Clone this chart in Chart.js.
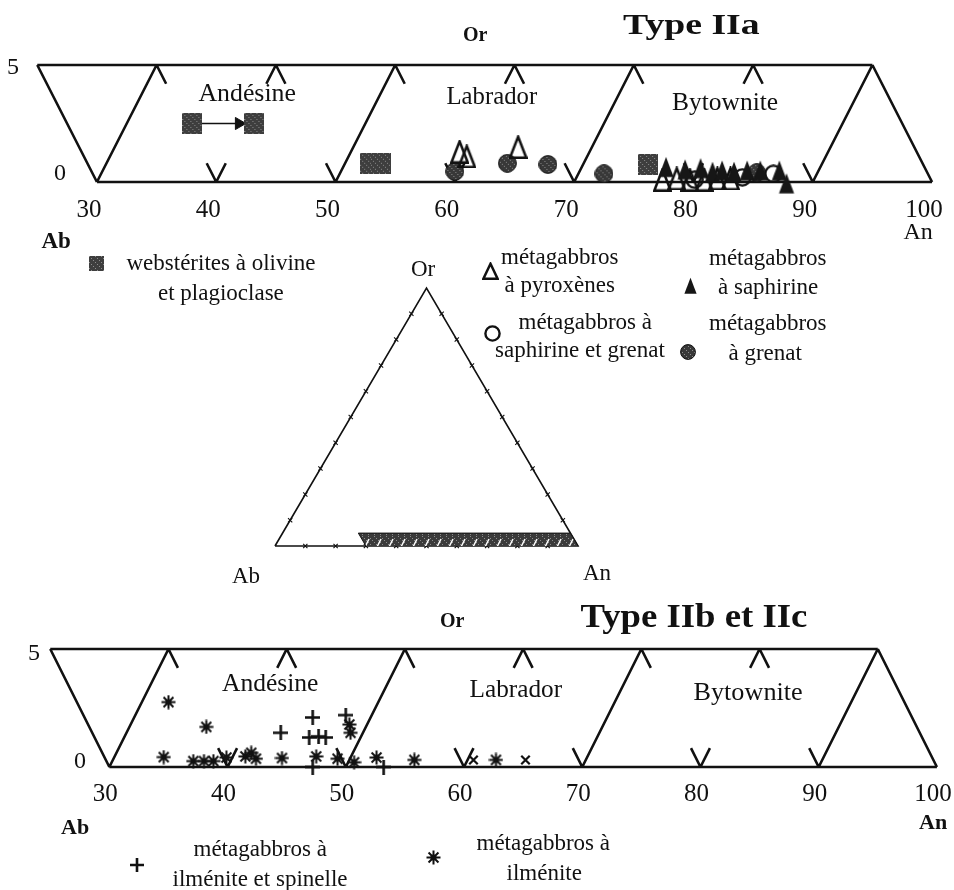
<!DOCTYPE html>
<html lang="fr">
<head>
<meta charset="utf-8">
<title>Plagioclases - Type IIa / Type IIb et IIc</title>
<script src="https://cdn.jsdelivr.net/npm/chart.js@4.4.1/dist/chart.umd.min.js"></script>
<style>
  html, body { margin: 0; padding: 0; background: #fff; overflow: hidden; }
  #page { position: relative; width: 954px; height: 890px; font-family: 'Liberation Serif', 'Times New Roman', serif; color: #111; }
  #page canvas { position: absolute; }
  .lbl { position: absolute; white-space: nowrap; line-height: 1; transform-origin: center; }
</style>
</head>
<body>
<div id="page">
  <canvas id="typeA" width="954" height="230" style="left:0;top:0"></canvas>
  <canvas id="tern" width="400" height="300" style="left:230px;top:270px"></canvas>
  <canvas id="typeB" width="954" height="300" style="left:0;top:590px"></canvas>
</div>
<script>
// ---- données (An %, Or %) ----
const xTicks = [30, 40, 50, 60, 70, 80, 90, 100];
const yTicks = ['0', '5'];
const plagioclases = ['Andésine', 'Labrador', 'Bytownite'];
const poles = ['Ab', 'An', 'Or'];

// Type IIa
const websteriteX = [38.0, 43.2, 52.9, 53.8, 76.2];
const websteriteY = [2.5, 2.5, 0.8, 0.8, 0.75];
const arrowX = [38.0, 43.2];
const arrowY = [2.5, 2.5];
const pyroxeneX = [60.4, 61.0, 65.3, 77.4, 78.6, 79.7, 80.9, 82.0, 83.1];
const pyroxeneY = [1.3, 1.1, 1.5, 0.1, 0.15, 0.1, 0.1, 0.15, 0.15];
const saphirineX = [77.7, 79.3, 80.6, 81.6, 82.4, 83.4, 84.5, 85.6, 87.2, 87.8];
const saphirineY = [0.65, 0.55, 0.6, 0.45, 0.5, 0.45, 0.5, 0.5, 0.5, -0.05];
const saphGrenatX = [80.1, 84.1, 86.7];
const saphGrenatY = [0.1, 0.2, 0.35];
const grenatX = [60.0, 64.4, 67.8, 72.5, 85.3];
const grenatY = [0.45, 0.8, 0.75, 0.35, 0.4];

// Type IIb et IIc
const ilmSpinX = [44.5, 47.2, 46.9, 47.7, 48.3, 47.2, 50.0, 53.2];
const ilmSpinY = [1.45, 2.1, 1.25, 1.3, 1.25, 0.0, 2.2, 0.0];
const ilmeniteX = [35.0, 38.2, 34.6, 37.1, 38.0, 38.8, 39.9, 41.5, 42.0, 42.4, 44.6, 47.5, 49.3, 50.3, 50.4, 50.7, 52.6, 55.8, 62.7];
const ilmeniteY = [2.75, 1.7, 0.42, 0.25, 0.25, 0.25, 0.4, 0.45, 0.6, 0.35, 0.38, 0.45, 0.35, 1.8, 1.45, 0.2, 0.4, 0.3, 0.3];
const autresX = [60.8, 65.2];
const autresY = [0.3, 0.3];

// cadre des bandes (An, Or)
const cadre = [[30, 0], [25, 5], [95, 5], [100, 0], [30, 0]];
const diagonales = [[30, 0, 35, 5], [50, 0, 55, 5], [70, 0, 75, 5], [90, 0, 95, 5]];
const ticksBasDouble = [40, 60, 80];
const ticksBasGauche = [50, 70, 90];
const ticksHautDouble = [45, 65, 85];
const ticksHautDroite = [35, 55, 75];

// ---- symboles ----
function grain(g, w, h) {
  g.fillStyle = '#8c8c8c';
  for (let i = 0; i < w; i += 2) for (let j = 0; j < h; j += 2)
    if ((i * 7 + j * 11) % 6 === 0) g.fillRect(i, j, 1, 1);
}
function symbole(kind, w, h) {
  const c = document.createElement('canvas');
  c.width = w; c.height = h;
  const g = c.getContext('2d');
  g.strokeStyle = '#111'; g.fillStyle = '#111';
  if (kind === 'carre') {
    g.fillStyle = '#3e3e3e'; g.fillRect(0, 0, w, h); grain(g, w, h);
  } else if (kind === 'triVide' || kind === 'triPlein') {
    g.lineWidth = 2.5;
    g.beginPath(); g.moveTo(w / 2, 1.8); g.lineTo(w - 1.4, h - 1.3); g.lineTo(1.4, h - 1.3); g.closePath();
    if (kind === 'triPlein') { g.fillStyle = '#161616'; g.fill(); } else g.stroke();
  } else if (kind === 'rondVide') {
    g.lineWidth = 2.4;
    g.beginPath(); g.arc(w / 2, h / 2, w / 2 - 1.4, 0, Math.PI * 2); g.stroke();
  } else if (kind === 'rondPlein') {
    g.beginPath(); g.arc(w / 2, h / 2, w / 2 - 0.6, 0, Math.PI * 2);
    g.fillStyle = '#383838'; g.fill();
    g.save(); g.clip(); grain(g, w, h); g.restore();
    g.lineWidth = 1; g.stroke();
  } else if (kind === 'plus') {
    g.lineWidth = 2.6;
    g.beginPath(); g.moveTo(w / 2, 0); g.lineTo(w / 2, h); g.moveTo(0, h / 2); g.lineTo(w, h / 2); g.stroke();
  } else if (kind === 'etoile') {
    g.lineWidth = 2;
    g.beginPath();
    for (let k = 0; k < 4; k++) {
      const a = k * Math.PI / 4, r = w / 2 - 0.5;
      g.moveTo(w / 2 - Math.cos(a) * r, h / 2 - Math.sin(a) * r);
      g.lineTo(w / 2 + Math.cos(a) * r, h / 2 + Math.sin(a) * r);
    }
    g.stroke();
    g.beginPath(); g.arc(w / 2, h / 2, w / 5, 0, Math.PI * 2); g.fill();
  }
  return c;
}

const imgCarre = symbole('carre', 20, 21);
const imgTriVide = symbole('triVide', 19, 24);
const imgTriPlein = symbole('triPlein', 18, 23);
const imgRondVide = symbole('rondVide', 19, 19);
const imgRondPlein = symbole('rondPlein', 19, 19);
const imgPlus = symbole('plus', 15, 15);
const imgEtoile = symbole('etoile', 15, 15);

// ---- cadre en segments ----
function segmentsCadre() {
  const d = 0.8;
  const pts = [];
  const seg = (a, b) => { pts.push({ x: a[0], y: a[1] }, { x: b[0], y: b[1] }, { x: b[0], y: null }); };
  for (let i = 0; i < cadre.length - 1; i++) seg(cadre[i], cadre[i + 1]);
  diagonales.forEach(([x1, y1, x2, y2]) => seg([x1, y1], [x2, y2]));
  ticksBasDouble.forEach(x => { seg([x - d, d], [x, 0]); seg([x, 0], [x + d, d]); });
  ticksBasGauche.forEach(x => seg([x - d, d], [x, 0]));
  ticksHautDouble.forEach(x => { seg([x - d, 5 - d], [x, 5]); seg([x, 5], [x + d, 5 - d]); });
  ticksHautDroite.forEach(x => seg([x, 5], [x + d, 5 - d]));
  return pts;
}

function points(label, xs, ys, style, extra) {
  return Object.assign({
    label,
    data: xs.map((x, i) => ({ x, y: ys[i] })),
    pointStyle: style,
    pointRadius: 9,
    showLine: false
  }, extra || {});
}

function cadreDataset() {
  return {
    label: 'cadre',
    data: segmentsCadre(),
    showLine: true,
    spanGaps: false,
    borderColor: '#111',
    borderWidth: 2.6,
    pointRadius: 0
  };
}

// ---- graphique en bande ----
function bande(id, geo, datasets) {
  const c = document.getElementById(id);
  const xMin = 24, yMin = -0.1, yMax = 5.1, axisH = 40;
  const ppx = (geo.px100 - geo.px30) / 70;
  const ppy = (geo.py0 - geo.py5) / 5;
  const left = geo.px30 - (30 - xMin) * ppx;
  const right = geo.px100 + (geo.xMax - 100) * ppx;
  const top = geo.py5 - (yMax - 5) * ppy - geo.top;
  const bottom = geo.py0 - yMin * ppy - geo.top;
  return new Chart(c, {
    type: 'scatter',
    data: { datasets },
    options: {
      responsive: false,
      animation: false,
      events: [],
      clip: false,
      layout: { padding: { left, right: c.width - right, top, bottom: c.height - bottom - axisH } },
      plugins: { legend: { display: false }, tooltip: { enabled: false } },
      scales: {
        x: {
          type: 'linear', min: xMin, max: geo.xMax,
          grid: { display: false }, border: { display: false },
          afterBuildTicks: s => { s.ticks = xTicks.map(v => ({ value: v })); },
          afterFit: s => { s.height = axisH; s.paddingLeft = 0; s.paddingRight = 0; },
          ticks: {
            autoSkip: false, maxRotation: 0, color: '#111',
            padding: geo.tickPad, labelOffset: geo.labelOffset,
            font: { family: 'Liberation Serif', size: 25 }
          }
        },
        y: { display: false, min: yMin, max: yMax }
      }
    }
  });
}

bande('typeA', { px30: 97, px100: 933, py0: 182, py5: 65, top: 0, xMax: 101, tickPad: 3, labelOffset: -8 }, [
  points('webstérites à olivine et plagioclase', websteriteX, websteriteY, imgCarre),
  {
    label: 'évolution', data: [{ x: arrowX[1] - 1.3, y: arrowY[1] }],
    pointStyle: 'triangle', rotation: 90, pointRadius: 7,
    backgroundColor: '#111', borderColor: '#111', showLine: false
  },
  {
    label: 'flèche', data: arrowX.map((x, i) => ({ x, y: arrowY[i] })),
    showLine: true, borderColor: '#111', borderWidth: 1.6, pointRadius: 0
  },
  points('métagabbros à saphirine', saphirineX, saphirineY, imgTriPlein),
  points('métagabbros à pyroxènes', pyroxeneX, pyroxeneY, imgTriVide),
  points('métagabbros à saphirine et grenat', saphGrenatX, saphGrenatY, imgRondVide),
  points('métagabbros à grenat', grenatX, grenatY, imgRondPlein),
  cadreDataset()
]);

bande('typeB', { px30: 110, px100: 945, py0: 767, py5: 649, top: 590, xMax: 100.6, tickPad: 2, labelOffset: -4 }, [
  points('métagabbros à ilménite et spinelle', ilmSpinX, ilmSpinY, imgPlus),
  points('métagabbros à ilménite', ilmeniteX, ilmeniteY, imgEtoile),
  points('autres', autresX, autresY, 'crossRot', { pointRadius: 6, borderColor: '#111', borderWidth: 2.2 }),
  cadreDataset()
]);

// ---- diagramme ternaire Ab-An-Or ----
(function () {
  const h = 86.6;
  const tern = (an, or) => ({ x: an + or / 2, y: or * h / 100 });
  const ticks = [];
  for (let i = 1; i < 10; i++) {
    ticks.push({ x: 5 * i, y: h * i / 10 }, { x: 100 - 5 * i, y: h * i / 10 });
    ticks.push({ x: 10 * i, y: 0 });
  }
  const zone = [tern(30, 0), tern(25, 5), tern(95, 5), tern(100, 0)];
  const pc = document.createElement('canvas');
  pc.width = 12; pc.height = 14;
  const g = pc.getContext('2d');
  g.fillStyle = '#3a3a3a'; g.fillRect(0, 0, 12, 14);
  grain(g, 12, 14);
  g.strokeStyle = '#fff'; g.lineWidth = 1.6;
  g.beginPath(); g.moveTo(3, 11); g.lineTo(7, 3); g.stroke();
  const motif = document.getElementById('tern').getContext('2d').createPattern(pc, 'repeat');

  new Chart(document.getElementById('tern'), {
    type: 'scatter',
    data: {
      datasets: [
        {
          label: 'Type II', data: zone, showLine: true, fill: 'shape',
          backgroundColor: motif, borderColor: '#111', borderWidth: 1, pointRadius: 0
        },
        {
          label: 'côtés', data: [{ x: 0, y: 0 }, { x: 50, y: h }, { x: 100, y: 0 }, { x: 0, y: 0 }],
          showLine: true, borderColor: '#111', borderWidth: 1.6, pointRadius: 0
        },
        {
          label: 'graduations', data: ticks, pointStyle: 'crossRot', pointRadius: 3,
          borderColor: '#111', borderWidth: 1.1, showLine: false
        }
      ]
    },
    options: {
      responsive: false, animation: false, events: [], clip: false,
      layout: { padding: { left: 45, right: 52, top: 18, bottom: 24 } },
      plugins: { legend: { display: false }, tooltip: { enabled: false } },
      scales: { x: { display: false, min: 0, max: 100 }, y: { display: false, min: 0, max: h } }
    }
  });
})();

// ---- textes ----
const page = document.getElementById('page');
function texte(t, cx, cy, size, weight, width) {
  const d = document.createElement('div');
  d.className = 'lbl';
  d.textContent = t;
  d.style.fontSize = size + 'px';
  if (weight) d.style.fontWeight = weight;
  page.appendChild(d);
  const w = d.offsetWidth, hh = d.offsetHeight;
  d.style.left = (cx - w / 2) + 'px';
  d.style.top = (cy - hh / 2) + 'px';
  if (width) d.style.transform = 'scaleX(' + (width / w).toFixed(3) + ')';
}
function icone(img, cx, cy, w, h) {
  const c = symbole(img, w, h);
  c.style.left = (cx - w / 2) + 'px';
  c.style.top = (cy - h / 2) + 'px';
  page.appendChild(c);
}

// bande Type IIa
texte(poles[2], 475, 34, 20, 'bold');
texte('Type IIa', 691, 24, 30, 'bold', 137);
texte(plagioclases[0], 247, 92, 25, '', 97);
texte(plagioclases[1], 492, 95, 25, '', 91);
texte(plagioclases[2], 725, 101, 25, '', 106);
texte(yTicks[1], 13, 66, 24);
texte(yTicks[0], 60, 172, 24);
texte(poles[0], 56, 240, 23, 'bold');
texte(poles[1], 918, 231, 24);

// légende Type IIa
icone('carre', 96, 263, 15, 15);
texte('webstérites à olivine', 221, 262, 23);
texte('et plagioclase', 221, 292, 23);
icone('triVide', 490, 271, 17, 18);
texte('métagabbros', 560, 256, 23);
texte('à pyroxènes', 560, 284, 23);
icone('triPlein', 690, 285, 15, 19);
texte('métagabbros', 768, 257, 23);
texte('à saphirine', 768, 286, 23);
icone('rondVide', 492, 333, 17, 17);
texte('métagabbros à', 585, 321, 23);
texte('saphirine et grenat', 580, 349, 23);
icone('rondPlein', 688, 352, 16, 16);
texte('métagabbros', 768, 322, 23);
texte('à grenat', 765, 352, 23);

// ternaire
texte(poles[2], 423, 268, 23);
texte(poles[0], 246, 575, 23);
texte(poles[1], 597, 572, 23);

// bande Type IIb et IIc
texte(poles[2], 452, 620, 20, 'bold');
texte('Type IIb et IIc', 694, 616, 33, 'bold', 227);
texte(plagioclases[0], 270, 682, 25, '', 96);
texte(plagioclases[1], 516, 688, 25, '', 93);
texte(plagioclases[2], 748, 691, 25, '', 109);
texte(yTicks[1], 34, 652, 24);
texte(yTicks[0], 80, 760, 24);
texte(poles[0], 75, 827, 22, 'bold');
texte(poles[1], 933, 822, 22, 'bold');

// légende Type IIb et IIc
icone('plus', 137, 865, 14, 14);
texte('métagabbros à', 260, 848, 23);
texte('ilménite et spinelle', 260, 878, 23);
icone('etoile', 433, 857, 15, 15);
texte('métagabbros à', 543, 842, 23);
texte('ilménite', 544, 872, 23);
</script>
</body>
</html>
